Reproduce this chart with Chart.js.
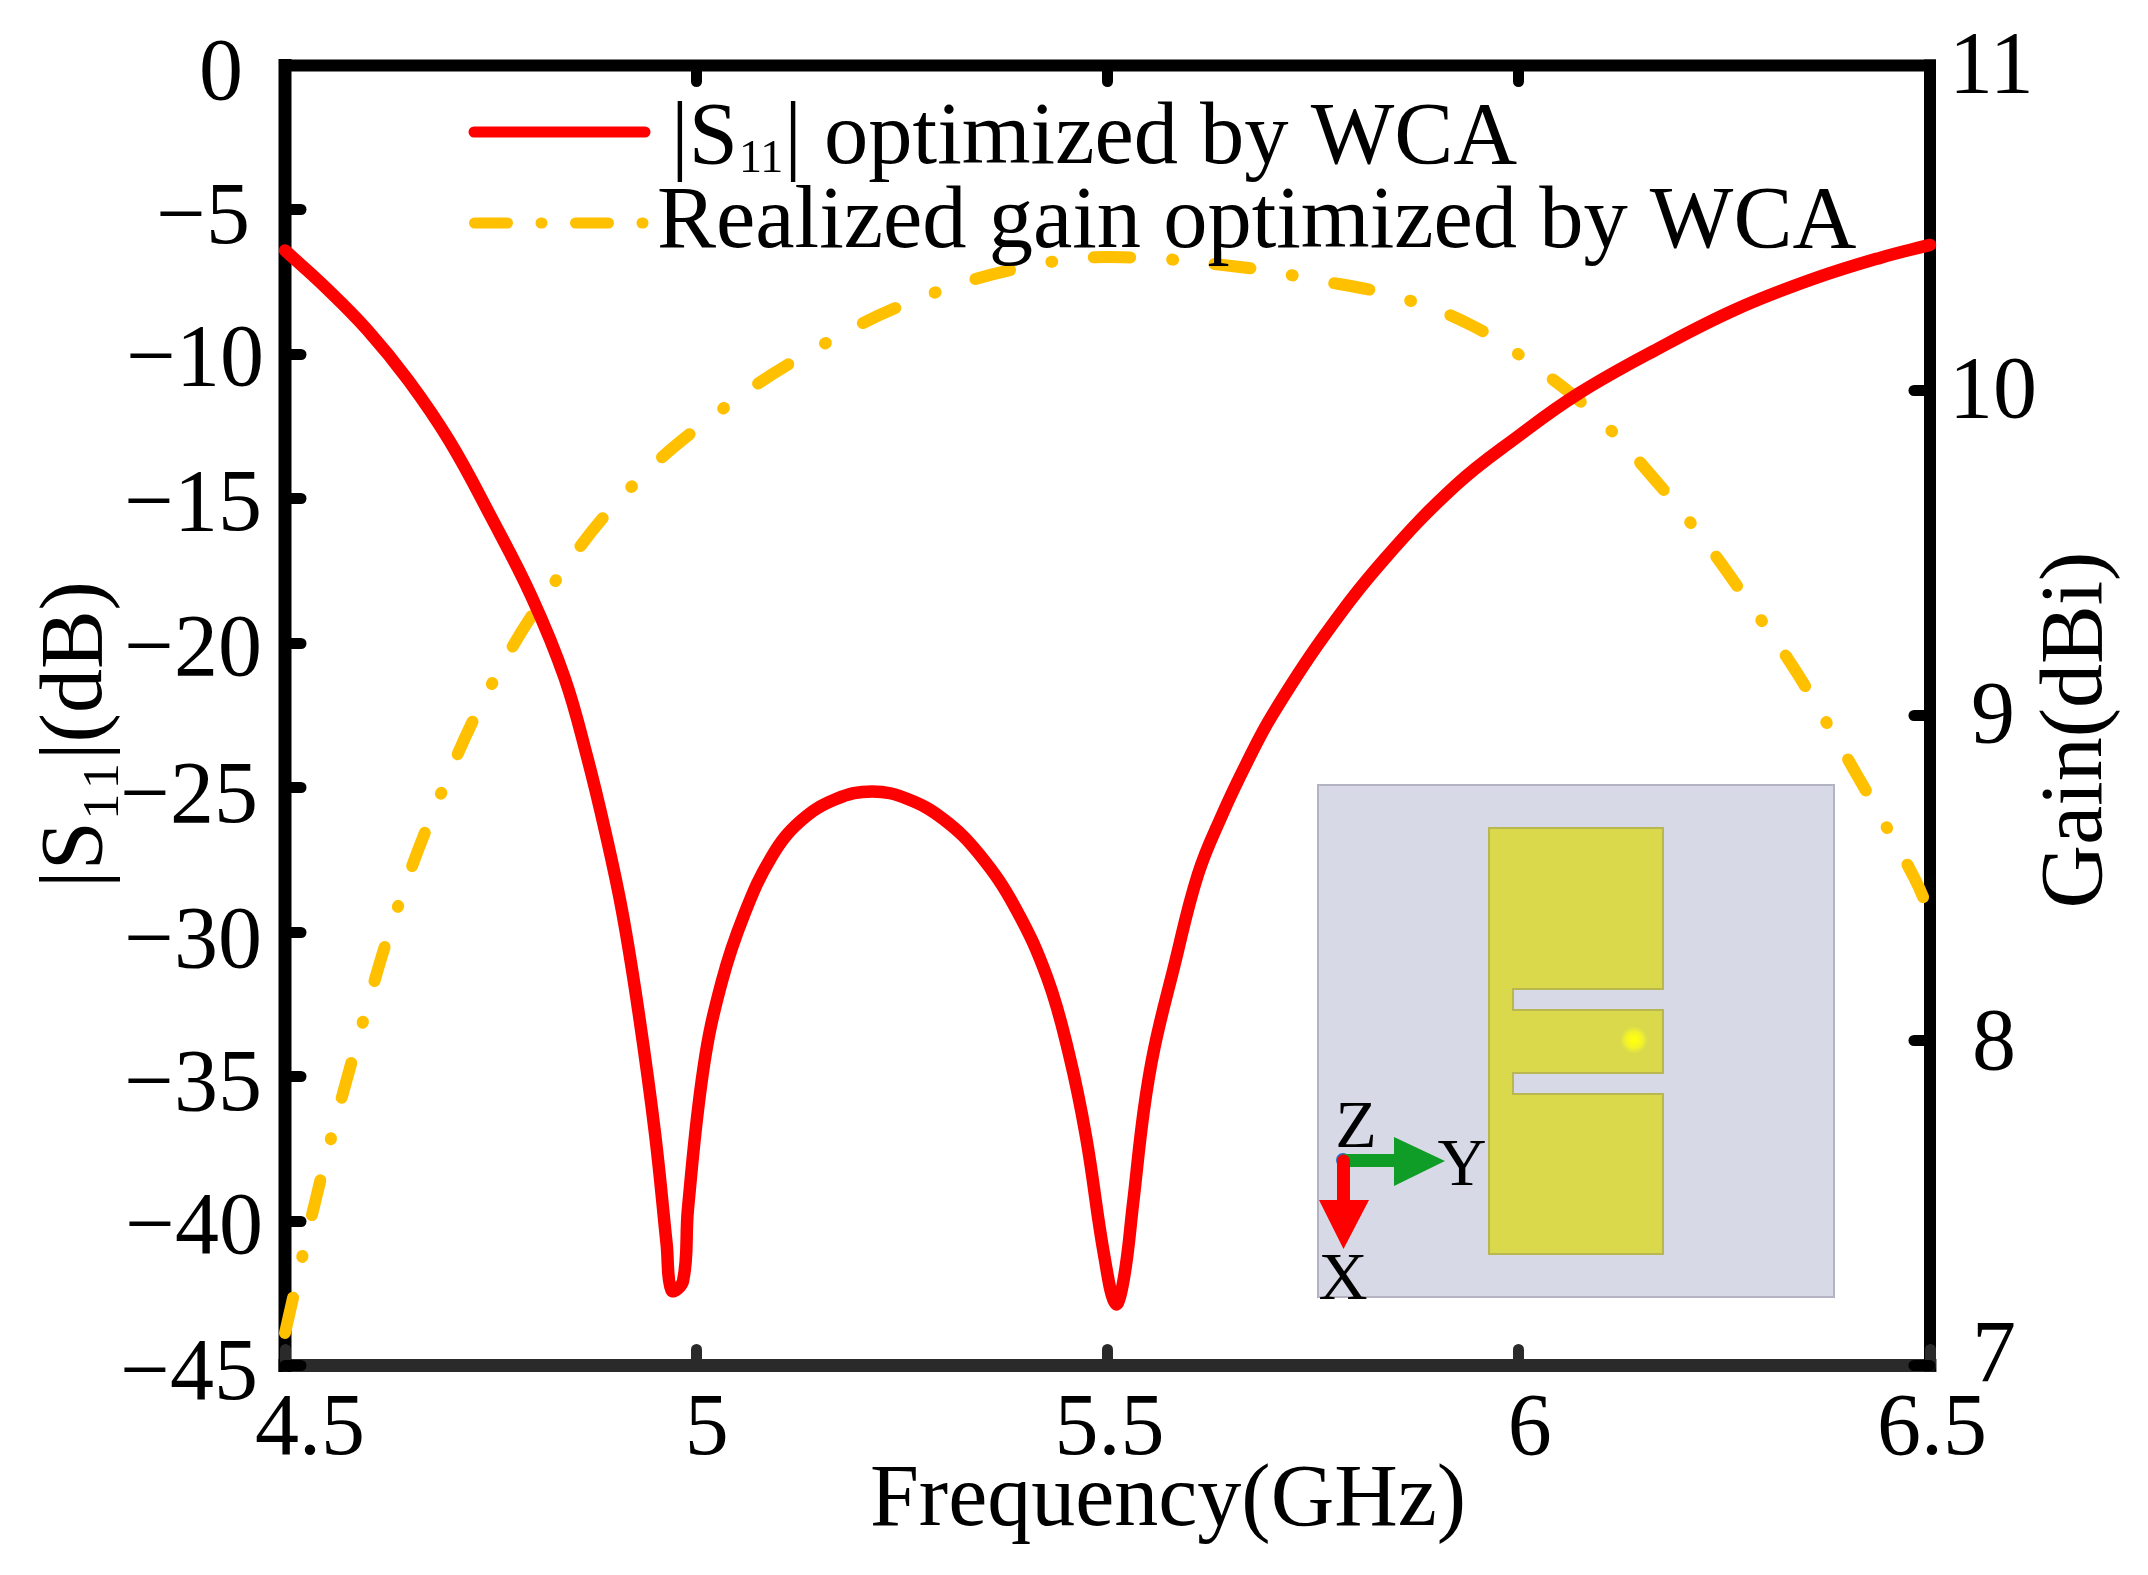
<!DOCTYPE html>
<html><head><meta charset="utf-8">
<style>html,body{margin:0;padding:0;background:#fff}canvas{display:block}</style>
<script src="https://cdn.jsdelivr.net/npm/chart.js@4/dist/chart.umd.js"></script>
</head><body><canvas id="c" width="2148" height="1575"></canvas>
<script>
const xTicks=[4.5,5,5.5,6,6.5];
const s11Ticks=[0,-5,-10,-15,-20,-25,-30,-35,-40,-45];
const gainTicks=[7,8,9,10,11];
const s11Label='|S11| optimized by WCA';
const gainLabel='Realized gain optimized by WCA';
const xTitle='Frequency(GHz)';
const s11Title='|S₁₁|(dB)';
const gainTitle='Gain(dBi)';

const s11Freq=[4.5,4.55,4.6,4.65,4.7,4.75,4.8,4.84,4.867,4.89,4.91,4.93,4.95,4.964,4.97,4.984,4.99,5.009,5.031,5.058,5.092,5.127,5.17,5.214,5.257,5.301,5.344,5.388,5.427,5.453,5.474,5.496,5.51,5.52,5.531,5.544,5.557,5.58,5.61,5.64,5.67,5.7,5.762,5.837,5.924,5.998,6.073,6.172,6.265,6.358,6.439,6.5];
const s11Values=[-6.4,-7.7,-9.15,-10.9,-13,-15.6,-18.4,-21.2,-23.9,-26.6,-29.3,-32.8,-37,-40.8,-42.4,-42.07,-39.55,-34.67,-31.72,-29.41,-27.37,-26.15,-25.39,-25.13,-25.39,-26.1,-27.3,-29.16,-31.6,-34.2,-37.1,-41.2,-42.87,-41.97,-39.41,-36.2,-34,-31.3,-28,-25.9,-24.1,-22.5,-19.8,-17.08,-14.52,-12.86,-11.35,-9.76,-8.43,-7.39,-6.66,-6.21];
const gainFreq=[4.5,4.545,4.595,4.637,4.688,4.75,4.825,4.916,5.025,5.146,5.278,5.419,5.518,5.661,5.754,5.85,5.943,6.022,6.095,6.164,6.222,6.279,6.336,6.383,6.433,6.481,6.5];
const gainValues=[7.1,7.59,8.06,8.41,8.75,9.09,9.4,9.69,9.93,10.13,10.29,10.39,10.41,10.38,10.34,10.29,10.2,10.07,9.92,9.73,9.55,9.35,9.14,8.94,8.72,8.5,8.39];

const RED='#ff0000', GOLD='#ffc000', SERIF="'Liberation Serif'";
Chart.defaults.font.family=SERIF; Chart.defaults.color='#000';

const pair=(xs,ys)=>xs.map((x,i)=>({x,y:ys[i]}));
const label=v=>String(v).replace('-','\u2212');
function setTicks(list){return s=>{s.ticks=list.map(value=>({value}));};}

// per-axis finishing: fixed size, no overhang padding, title shift and individual label nudges
function finish(opts){return s=>{
  if(opts.w!==undefined)s.width=opts.w;
  if(opts.h!==undefined)s.height=opts.h;
  s.paddingTop=s.paddingBottom=s.paddingLeft=s.paddingRight=0;
  if(s._finished)return; s._finished=true;
  if(opts.title){
    const [dx,dy,flip]=opts.title,orig=s.drawTitle;
    s.drawTitle=function(){const c=s.ctx;c.save();c.translate(dx,dy);
      if(flip){const px=(s.left+s.right)/2,py=(s.top+s.bottom)/2;c.translate(px,py);c.rotate(Math.PI);c.translate(-px,-py);}
      orig.call(s);c.restore();};
  }
  if(opts.nudge){
    const orig=s._computeLabelItems;
    s._computeLabelItems=function(a){const items=orig.call(s,a);
      items.forEach((it,i)=>{const n=opts.nudge[i];if(n){it.options.translation=[it.options.translation[0]+n[0],it.options.translation[1]+n[1]];}});
      return items;};
  }
};}

function text(c,t,x,y,font,color){c.font=font;c.fillStyle=color||'#000';c.fillText(t,x,y);return c.measureText(t).width;}

const decor={id:'decor',
  beforeDraw(ch){const c=ch.ctx,a=ch.chartArea;
    c.save();c.fillStyle='#fff';c.fillRect(0,0,ch.width,ch.height);
    c.lineCap='square';
    const seg=(x1,y1,x2,y2,w,col)=>{c.strokeStyle=col;c.lineWidth=w;c.beginPath();c.moveTo(x1,y1);c.lineTo(x2,y2);c.stroke();};
    seg(a.left,a.bottom,a.right,a.bottom,13,'#2a2a2a');
    seg(a.left,a.top,a.right,a.top,12,'#000');
    seg(a.left,a.top,a.left,a.bottom,13,'#000');
    seg(a.right,a.top,a.right,a.bottom,12,'#000');
    c.restore();
    c.lineCap='round';
  },
  afterDatasetsDraw(ch){const c=ch.ctx;
    c.save();c.lineCap='butt';
    // inset antenna picture
    c.fillStyle='#d8d9e6';c.strokeStyle='#b3b3c3';c.lineWidth=2;
    c.fillRect(1318,785,516,512);c.strokeRect(1318,785,516,512);
    c.fillStyle='#d9d94b';c.strokeStyle='#b9b850';c.lineWidth=2;
    c.beginPath();
    [[1489,828],[1663,828],[1663,989],[1513,989],[1513,1010],[1663,1010],[1663,1073],[1513,1073],[1513,1094],[1663,1094],[1663,1254],[1489,1254]]
      .forEach((p,i)=>i?c.lineTo(p[0],p[1]):c.moveTo(p[0],p[1]));
    c.closePath();c.fill();c.stroke();
    const g=c.createRadialGradient(1634,1040,2,1634,1040,14);
    g.addColorStop(0,'#ffff10');g.addColorStop(.55,'#f2f22a');g.addColorStop(1,'rgba(235,235,60,0)');
    c.fillStyle=g;c.beginPath();c.arc(1634,1040,14,0,7);c.fill();
    // coordinate triad
    c.fillStyle='#1f6fc0';c.beginPath();c.arc(1343,1160,7,0,7);c.fill();
    c.fillStyle='#0f9d28';
    c.fillRect(1343,1154,54,13);
    c.beginPath();c.moveTo(1445,1161);c.lineTo(1394,1137);c.lineTo(1394,1186);c.closePath();c.fill();
    c.fillStyle=RED;
    c.fillRect(1337,1161,13,42);
    c.beginPath();c.arc(1343.5,1161,6.5,0,7);c.fill();
    c.beginPath();c.moveTo(1343.5,1249);c.lineTo(1319,1200);c.lineTo(1369,1200);c.closePath();c.fill();
    c.textBaseline='alphabetic';c.textAlign='center';
    text(c,'Z',1356,1147,"68px "+SERIF);
    text(c,'Y',1462,1185,"68px "+SERIF);
    text(c,'X',1343,1299,"68px "+SERIF);
    // legend
    c.textAlign='left';
    const f88="88.5px "+SERIF,f46="46px "+SERIF;
    c.lineCap='round';
    c.lineWidth=11;
    c.strokeStyle=RED;c.beginPath();c.moveTo(474,132);c.lineTo(645,132);c.stroke();
    c.strokeStyle=GOLD;c.setLineDash([33,33.5,1,33.5]);c.beginPath();c.moveTo(474.5,223);c.lineTo(644.5,223);c.stroke();c.setLineDash([]);
    const m=s11Label.match(/^(\|S)(11)(\|.*)$/);
    let x=671;
    x+=text(c,m[1],x,163,f88);
    x+=text(c,m[2],x+1,172,f46);
    text(c,m[3],x+2,163,f88);
    text(c,gainLabel,657,247,f88);
    c.restore();
  },
  afterDraw(ch){ch.ctx.lineCap='butt';}
};

const bigFont={size:88,family:SERIF};
const gridOpts=(col)=>({drawOnChartArea:false,drawTicks:true,tickLength:-16,tickWidth:11,tickColor:col});

new Chart(document.getElementById('c'),{
  type:'line',
  plugins:[decor],
  data:{datasets:[
    {label:s11Label,data:pair(s11Freq,s11Values),xAxisID:'x',yAxisID:'y',borderColor:RED,backgroundColor:RED,borderWidth:12.5,pointRadius:0,tension:0.4,borderCapStyle:'round',borderJoinStyle:'round',fill:false,clip:false},
    {label:gainLabel,data:pair(gainFreq,gainValues),xAxisID:'x',yAxisID:'y2',borderColor:GOLD,backgroundColor:GOLD,borderWidth:12,pointRadius:0,tension:0.4,borderCapStyle:'round',borderJoinStyle:'round',borderDash:[36,42,1,42],fill:false,clip:false}
  ]},
  options:{
    responsive:false,animation:false,devicePixelRatio:1,
    layout:{padding:0},
    events:[],
    plugins:{legend:{display:false},title:{display:false},tooltip:{enabled:false}},
    scales:{
      x:{type:'linear',position:'bottom',min:4.5,max:6.5,afterBuildTicks:setTicks(xTicks),
        afterFit:finish({h:209.5,title:[60.5,-20],nudge:[[25,0],[10.5,0],[2,0],[11,0],[2,0]]}),
        border:{display:false},grid:gridOpts('#2a2a2a'),
        ticks:{font:bigFont,color:'#000',padding:29,maxRotation:0,autoSkip:false,callback:label},
        title:{display:true,text:xTitle,font:bigFont,color:'#000',padding:0}},
      xTop:{type:'linear',position:'top',min:4.5,max:6.5,afterBuildTicks:setTicks(xTicks),
        afterFit:finish({h:65.5}),
        border:{display:false},grid:gridOpts('#000'),ticks:{display:false}},
      y:{type:'linear',position:'left',min:-45,max:0,afterBuildTicks:setTicks(s11Ticks),
        afterFit:finish({w:285,title:[25,19],nudge:[[-19,10],[-12,10],[2,8],[0,8],[0,9],[-4,11],[0,12],[0,10],[1,9],[-4,10]]}),
        border:{display:false},grid:gridOpts('#000'),
        ticks:{font:bigFont,color:'#000',padding:39,autoSkip:false,callback:label},
        title:{display:true,text:s11Title,font:bigFont,color:'#000',padding:0}},
      y2:{type:'linear',position:'right',min:7,max:11,afterBuildTicks:setTicks(gainTicks),
        afterFit:finish({w:218,title:[95,14.5,true],nudge:[[15,-8],[15,5.5],[14,3],[-8,3.5],[-8,3.5]]}),
        border:{display:false},grid:gridOpts('#000'),
        ticks:{font:bigFont,color:'#000',padding:43,autoSkip:false,callback:label},
        title:{display:true,text:gainTitle,font:bigFont,color:'#000',padding:0}}
    }
  }
});
</script></body></html>
